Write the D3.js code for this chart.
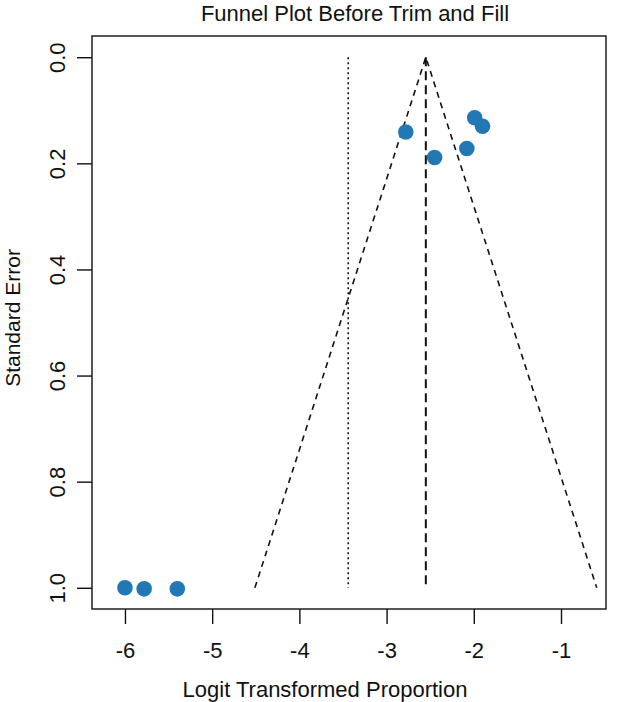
<!DOCTYPE html>
<html>
<head>
<meta charset="utf-8">
<script src="https://cdn.jsdelivr.net/npm/d3@7"></script>
<style>
  body { margin: 0; background: #fff; }
  svg text { font-family: "Liberation Sans", Arial, sans-serif; fill: #111; }
</style>
</head>
<body>
<div id="chart"></div>
<script>
// study estimates (logit proportion) and their standard errors
var studyX = [-6.0, -5.78, -5.40, -2.78, -2.45, -1.99, -1.90, -2.08]
var studySE = [1.0, 1.002, 1.002, 0.141, 0.189, 0.114, 0.130, 0.172]

var pooledEst = -2.55      // dashed centre line
var refLine = -3.44        // dotted line
var maxSE = 1.0

var xTicks = [-6, -5, -4, -3, -2, -1]
var yTicks = [0, 0.2, 0.4, 0.6, 0.8, 1.0]

var titleText = "Funnel Plot Before Trim and Fill"
var xLabel = "Logit Transformed Proportion"
var yLabel = "Standard Error"

var W = 622, H = 702
var box = { left: 92, right: 606, top: 36, bottom: 609 }
var fs = "22px"

var x = d3.scaleLinear().domain([-6.378, -0.484]).range([box.left, box.right])
var y = d3.scaleLinear().domain([-0.04, 1.04]).range([box.top, box.bottom])

var svg = d3.select("#chart").append("svg")
  .attr("width", W)
  .attr("height", H)

// funnel
var funnel = [
  [pooledEst - 1.96 * maxSE, maxSE],
  [pooledEst, 0],
  [pooledEst + 1.96 * maxSE, maxSE]
]
svg.append("path")
  .datum(funnel)
  .attr("d", d3.line().x(function(d){ return x(d[0]) }).y(function(d){ return y(d[1]) }))
  .attr("fill", "none")
  .attr("stroke", "#111")
  .attr("stroke-width", 1.6)
  .attr("stroke-dasharray", "6,5")

// pooled estimate line
svg.append("line")
  .attr("x1", x(pooledEst)).attr("x2", x(pooledEst))
  .attr("y1", y(0)).attr("y2", y(maxSE))
  .attr("stroke", "#111")
  .attr("stroke-width", 2)
  .attr("stroke-dasharray", "9,5")

// reference line
svg.append("line")
  .attr("x1", x(refLine)).attr("x2", x(refLine))
  .attr("y1", y(0)).attr("y2", y(maxSE))
  .attr("stroke", "#111")
  .attr("stroke-width", 1.6)
  .attr("stroke-dasharray", "2,3")

// points
svg.selectAll("circle.pt")
  .data(studyX)
  .enter()
  .append("circle")
  .attr("class", "pt")
  .attr("cx", function(d){ return x(d) })
  .attr("cy", function(d, i){ return y(studySE[i]) })
  .attr("r", 7.8)
  .attr("fill", "#2178b4")

// box
svg.append("rect")
  .attr("x", box.left).attr("y", box.top)
  .attr("width", box.right - box.left).attr("height", box.bottom - box.top)
  .attr("fill", "none").attr("stroke", "#111").attr("stroke-width", 1.4)

// axes
var xAxis = svg.append("g")
  .attr("transform", "translate(0," + box.bottom + ")")
  .call(d3.axisBottom(x).tickValues(xTicks).tickSize(15).tickFormat(function(d){ return String(d) }))
xAxis.select(".domain").remove()
xAxis.selectAll("line").attr("stroke", "#111").attr("stroke-width", 1.4)
xAxis.selectAll("text")
  .style("font-size", fs)
  .attr("fill", "#111")
  .attr("dy", null)
  .attr("y", 49)

var yAxis = svg.append("g")
  .attr("transform", "translate(" + box.left + ",0)")
  .call(d3.axisLeft(y).tickValues(yTicks).tickSize(15).tickFormat(d3.format(".1f")))
yAxis.select(".domain").remove()
yAxis.selectAll("line").attr("stroke", "#111").attr("stroke-width", 1.4)
yAxis.selectAll("text")
  .style("font-size", fs)
  .attr("fill", "#111")
  .attr("x", null).attr("dy", null).attr("y", null)
  .attr("text-anchor", "middle")
  .attr("transform", "translate(-27,0) rotate(-90)")

// titles
svg.append("text")
  .attr("x", 355)
  .attr("y", 21)
  .attr("text-anchor", "middle")
  .style("font-size", fs)
  .text(titleText)

svg.append("text")
  .attr("x", 325)
  .attr("y", 697)
  .attr("text-anchor", "middle")
  .style("font-size", fs)
  .text(xLabel)

svg.append("text")
  .attr("transform", "translate(20,318) rotate(-90)")
  .attr("text-anchor", "middle")
  .style("font-size", "21px")
  .text(yLabel)
</script>
</body>
</html>
